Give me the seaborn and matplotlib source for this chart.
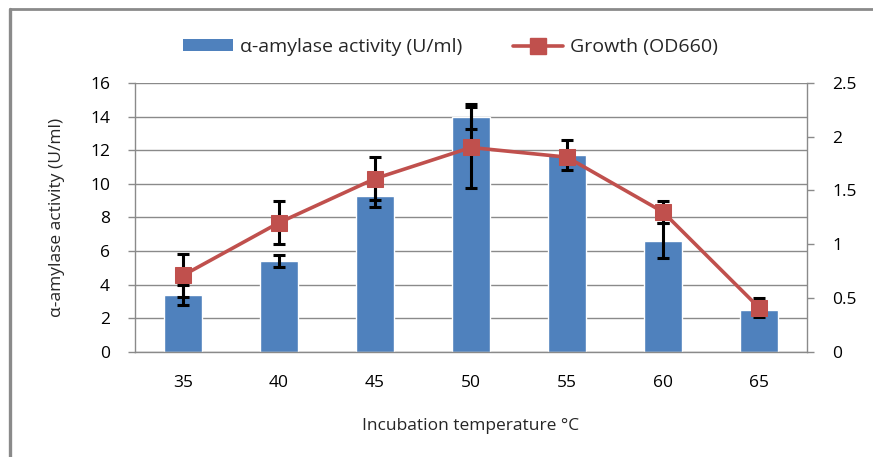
import matplotlib
matplotlib.use("Agg")
import matplotlib.pyplot as plt
import seaborn as sns
import pandas as pd
import numpy as np
from matplotlib.patches import Patch
from matplotlib.lines import Line2D

temperatures = ["35", "40", "45", "50", "55", "60", "65"]
amylase = [3.4, 5.4, 9.3, 14.0, 11.7, 6.6, 2.5]
amylase_err = [0.6, 0.35, 0.7, 0.75, 0.9, 1.05, 0.2]
growth = [0.71, 1.20, 1.61, 1.90, 1.81, 1.30, 0.41]
growth_err = [0.2, 0.2, 0.2, 0.38, 0.06, 0.1, 0.09]

left_ticks = [0, 2, 4, 6, 8, 10, 12, 14, 16]
right_ticks = [0, 0.5, 1, 1.5, 2, 2.5]
right_labels = ["0", "0.5", "1", "1.5", "2", "2.5"]

bar_label = "\u03b1-amylase activity (U/ml)"
line_label = "Growth (OD660)"

sns.set_theme(style="white")
plt.rcParams["font.family"] = ["Open Sans", "DejaVu Sans"]
FS = 12.5

df = pd.DataFrame({"temp": temperatures, "amylase": amylase})

fig = plt.figure(figsize=(8.73, 4.57), dpi=100)
ax = fig.add_axes([0.1546, 0.2304, 0.7698, 0.5880])

grid_col = "#8a8a8a"
ax.set_axisbelow(True)
ax.yaxis.grid(True, color=grid_col, linewidth=1.0)
ax.xaxis.grid(False)

sns.barplot(data=df, x="temp", y="amylase", color="#4F81BD", width=0.4,
            saturation=1, ax=ax, errorbar=None, zorder=2)
pos = np.arange(len(temperatures))
ax.errorbar(pos, amylase, yerr=amylase_err, fmt="none", ecolor="black",
            elinewidth=2.2, capsize=4, capthick=2.2, zorder=3)

ax.set_ylim(0, 16)
ax.set_yticks(left_ticks)
ax.set_yticklabels([str(t) for t in left_ticks])
ax.set_xlim(-0.5, len(temperatures) - 0.5)
ax.set_xticks(pos)
ax.set_xticklabels(temperatures)
ax.set_xticks(np.arange(-0.5, len(temperatures), 1.0), minor=True)
ax.tick_params(axis="x", which="major", length=0, pad=17, labelsize=FS, colors="black")
ax.tick_params(axis="x", which="minor", length=6, width=1, color=grid_col, direction="out")
ax.tick_params(axis="y", length=5, width=1, color=grid_col, direction="out", pad=13,
               labelsize=FS, labelcolor="black")
ax.set_xlabel("Incubation temperature \u00b0C", fontsize=FS, labelpad=19)
ax.set_ylabel(bar_label, fontsize=FS, labelpad=18)

for side in ["left", "bottom"]:
    ax.spines[side].set_color(grid_col)
    ax.spines[side].set_linewidth(1.0)
ax.spines["top"].set_visible(False)
ax.spines["right"].set_visible(False)

ax2 = ax.twinx()
gdf = pd.DataFrame({"pos": pos, "growth": growth})
ax2.errorbar(pos, growth, yerr=growth_err, fmt="none", ecolor="black",
             elinewidth=2.2, capsize=4, capthick=2.2, zorder=3)
sns.lineplot(data=gdf, x="pos", y="growth", ax=ax2, color="#C0504D", linewidth=2.6,
             marker="s", markersize=12, markeredgecolor="#C0504D", zorder=4)
ax2.set_ylim(0, 2.5)
ax2.set_yticks(right_ticks)
ax2.set_yticklabels(right_labels)
ax2.set_ylabel("")
ax2.set_xlabel("")
ax2.tick_params(axis="y", length=5, width=1, color=grid_col, direction="out", pad=13,
                labelsize=FS, labelcolor="black")
ax2.spines["right"].set_color(grid_col)
ax2.spines["right"].set_linewidth(1.0)
for side in ["left", "top", "bottom"]:
    ax2.spines[side].set_visible(False)
ax2.grid(False)

handles = [Patch(facecolor="#4F81BD", edgecolor="none"),
           Line2D([0], [0], color="#C0504D", linewidth=2.6, marker="s", markersize=12)]
fig.legend(handles, [bar_label, line_label], loc="center", bbox_to_anchor=(0.516, 0.897),
           ncol=2, frameon=False, fontsize=14, handlelength=2.6, handleheight=0.6,
           columnspacing=2.6, handletextpad=0.35)

# chart-area border (only the left and top edges are visible in the frame)
fig.add_artist(Line2D([10 / 873, 10 / 873], [0, 1 - 9 / 457], transform=fig.transFigure,
                      color="#8a8a8a", linewidth=2.4))
fig.add_artist(Line2D([10 / 873, 1], [1 - 9 / 457, 1 - 9 / 457], transform=fig.transFigure,
                      color="#8a8a8a", linewidth=2.0))

fig.savefig("out.png", dpi=100)
